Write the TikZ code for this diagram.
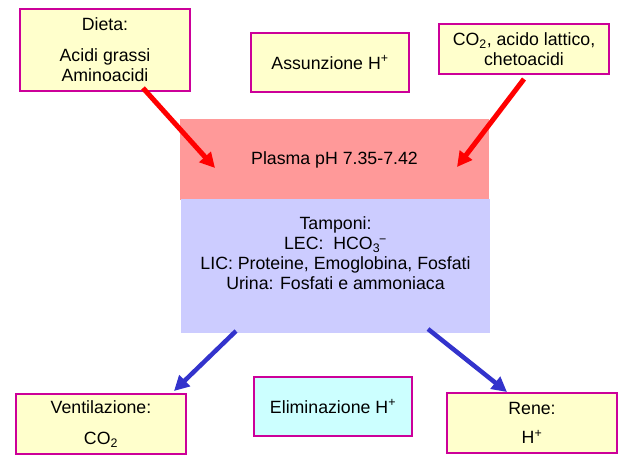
\documentclass[tikz,border=0pt]{standalone}
\usepackage{fontspec}
\setmainfont{Liberation Sans}
\usetikzlibrary{arrows.meta}
\definecolor{boxline}{RGB}{204,0,153}
\definecolor{boxyellow}{RGB}{255,255,204}
\definecolor{plasmared}{RGB}{255,153,153}
\definecolor{tamponblue}{RGB}{204,204,255}
\definecolor{elimcyan}{RGB}{204,255,255}
\definecolor{arrowblue}{RGB}{51,51,204}
\begin{document}
\begin{tikzpicture}[x=1bp,y=-1bp,
  font=\fontsize{17.8}{20}\selectfont,
  infobox/.style={draw=boxline,line width=1.4bp,fill=boxyellow,align=center,
    inner sep=0pt,minimum width=170bp},
  inarrow/.style={draw=red,line width=5bp,-{Triangle[length=15bp,width=15bp]}},
  outarrow/.style={draw=arrowblue,line width=4.5bp,-{Triangle[length=15bp,width=15bp]}}]
\useasboundingbox (0,0) rectangle (635,466);
% plasma and buffers
\node[fill=plasmared,minimum width=309bp,minimum height=81bp,inner sep=0pt]
  (plasma) at (334.5,159.5) {Plasma pH 7.35-7.42};
\node[fill=tamponblue,minimum width=309bp,minimum height=134bp,inner sep=0pt]
  (tamponi) at (335.5,266) {};
\node[align=center,inner sep=0pt] (tamponitxt) at (335.5,253)
  {Tamponi:\\LEC:\ \ HCO\textsubscript{3}\kern-1bp\textsuperscript{\textminus}\\
   LIC: Proteine, Emoglobina, Fosfati\\Urina: Fosfati e ammoniaca};
% sources
\node[infobox,minimum height=82bp] (dieta) at (105,50)
  {Dieta:\\[11bp]Acidi grassi\\Aminoacidi};
\node[infobox,minimum width=158bp,minimum height=59bp] (assunzione) at (330,62.5)
  {Assunzione H\textsuperscript{+}};
\node[infobox,minimum height=50bp] (acidi) at (524,49)
  {CO\textsubscript{2}, acido lattico,\\chetoacidi};
% outputs
\node[infobox,minimum height=60bp] (ventilazione) at (101,424)
  {Ventilazione:\\[11bp]CO\textsubscript{2}};
\node[infobox,fill=elimcyan,minimum width=158bp,minimum height=59bp]
  (eliminazione) at (333,406.5) {Eliminazione H\textsuperscript{+}};
\node[infobox,minimum height=60bp] (rene) at (532,423)
  {Rene:\\[9bp]H\textsuperscript{+}};
% arrows
\coordinate (dietaout) at (143,88);
\coordinate (plasmaleft) at (215,168);
\coordinate (acidiout) at (524,79);
\coordinate (plasmaright) at (457,167);
\coordinate (tamponileft) at (236,331);
\coordinate (ventin) at (174,391);
\coordinate (tamponiright) at (428,329);
\coordinate (renein) at (507,392);
\draw[inarrow] (dietaout) -- (plasmaleft);
\draw[inarrow] (acidiout) -- (plasmaright);
\draw[outarrow] (tamponileft) -- (ventin);
\draw[outarrow] (tamponiright) -- (renein);
\end{tikzpicture}
\end{document}
